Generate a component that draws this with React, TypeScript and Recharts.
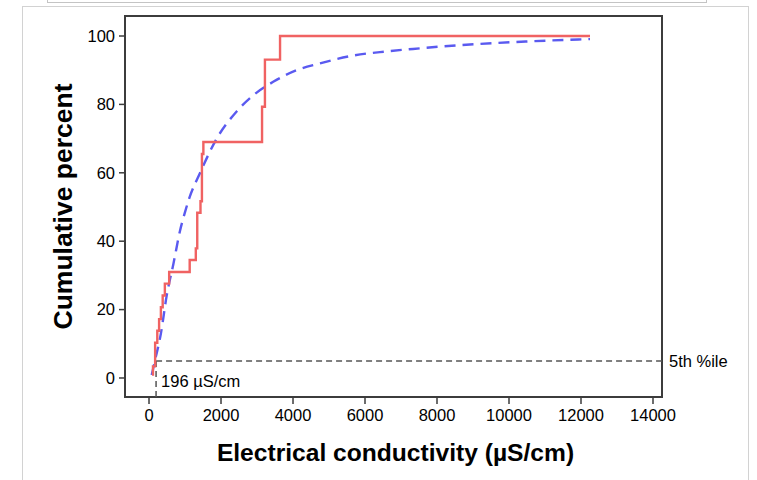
import {
  Label,
  Line,
  LineChart,
  ReferenceArea,
  ReferenceDot,
  ReferenceLine,
  XAxis,
  YAxis,
} from "recharts";

// empirical cumulative distribution (step line)
const ecdfX = [85, 110, 170, 230, 280, 330, 380, 440, 560, 1130, 1300, 1340, 1430, 1470, 1510, 3140, 3220, 3640, 12250];
const ecdfP = [1.0, 3.4, 10.3, 13.8, 17.2, 20.7, 24.1, 27.6, 31.0, 34.5, 37.9, 48.3, 51.7, 65.5, 69.0, 79.3, 93.1, 100, 100];

// fitted distribution (dashed curve)
const fitX = [75, 170, 330, 490, 680, 860, 1000, 1100, 1420, 1880, 2440, 2900, 3450, 4100, 4750, 5680, 6600, 7530, 8080, 9190, 10500, 12250];
const fitP = [0.9, 5.3, 13, 24, 33.5, 43, 48.5, 52, 60, 70, 78, 82.7, 86.6, 90, 92, 94.3, 95.5, 96.4, 96.9, 97.7, 98.4, 99.1];

const xTicks = [0, 2000, 4000, 6000, 8000, 10000, 12000, 14000];
const yTicks = [0, 20, 40, 60, 80, 100];

const pct5 = 5;
const pct5Value = 196;

const X_MIN = -667;
const X_MAX = 14250;
const Y_MIN = -5.56;
const Y_MAX = 105.85;

const ecdfData = ecdfX.map((v, i) => ({ v, p: ecdfP[i] }));
const fitData = fitX.map((v, i) => ({ v, p: fitP[i] }));

const font = "'Liberation Sans', Arial, Helvetica, sans-serif";
const frame = "#3c3c3c";

export default function App() {
  return (
    <div style={{ position: "absolute", left: 0, top: 0, width: 757, height: 480, overflow: "hidden", background: "#fff" }}>
      <div style={{ position: "absolute", left: 47, top: -10, width: 658, height: 11, border: "1px solid #c4c4c4" }} />
      <div style={{ position: "absolute", left: 22, top: 6, width: 725, height: 500, border: "1px solid #d2d2d2" }} />
      <div style={{ position: "absolute", left: 0, top: 0 }}>
        <LineChart
          width={757}
          height={480}
          margin={{ top: 16, right: 95, bottom: 13, left: 0 }}
          style={{ fontFamily: font }}
        >
          <XAxis
            dataKey="v"
            type="number"
            domain={[X_MIN, X_MAX]}
            ticks={xTicks}
            allowDataOverflow
            height={70}
            axisLine={false}
            tickLine={{ stroke: frame, strokeWidth: 1.5 }}
            tickSize={7}
            tickMargin={5}
            tick={{ fill: "#000", fontSize: 16.5 }}
          >
            <Label
              value="Electrical conductivity (µS/cm)"
              position="insideBottom"
              offset={6}
              dx={2}
              style={{ fontSize: 24.6, fontWeight: "bold", fill: "#000" }}
            />
          </XAxis>
          <YAxis
            type="number"
            domain={[Y_MIN, Y_MAX]}
            ticks={yTicks}
            allowDataOverflow
            width={125}
            axisLine={false}
            tickLine={{ stroke: frame, strokeWidth: 1.5 }}
            tickSize={6}
            tickMargin={4}
            tick={{ fill: "#000", fontSize: 16.5 }}
          >
            <Label
              value="Cumulative percent"
              position="center"
              angle={-90}
              style={{ fontSize: 26.5, fontWeight: "bold", fill: "#000", textAnchor: "middle" }}
            />
          </YAxis>
          <ReferenceArea
            x1={X_MIN}
            x2={X_MAX}
            y1={Y_MIN}
            y2={Y_MAX}
            fill="none"
            stroke={frame}
            strokeWidth={2}
            ifOverflow="visible"
          />
          <ReferenceLine
            segment={[{ x: pct5Value, y: pct5 }, { x: X_MAX, y: pct5 }]}
            stroke="#555"
            strokeWidth={1.5}
            strokeDasharray="6 4"
            ifOverflow="visible"
            label={{ value: "5th %ile", position: "right", offset: 7, fill: "#000", fontSize: 16.5 }}
          />
          <ReferenceLine
            segment={[{ x: pct5Value, y: pct5 }, { x: pct5Value, y: Y_MIN }]}
            stroke="#555"
            strokeWidth={1.5}
            strokeDasharray="6 4"
            ifOverflow="visible"
          />
          <ReferenceDot
            x={pct5Value}
            y={-1}
            r={0}
            fill="none"
            stroke="none"
            ifOverflow="visible"
            label={{ value: "196 µS/cm", position: "right", offset: 5, fill: "#000", fontSize: 16.5 }}
          />
          <Line
            data={fitData}
            dataKey="p"
            type="monotone"
            stroke="#5a5af0"
            strokeWidth={2.4}
            strokeDasharray="11 7"
            dot={false}
            isAnimationActive={false}
          />
          <Line
            data={ecdfData}
            dataKey="p"
            type="stepAfter"
            stroke="#f06262"
            strokeWidth={2.4}
            dot={false}
            isAnimationActive={false}
          />
        </LineChart>
      </div>
    </div>
  );
}
